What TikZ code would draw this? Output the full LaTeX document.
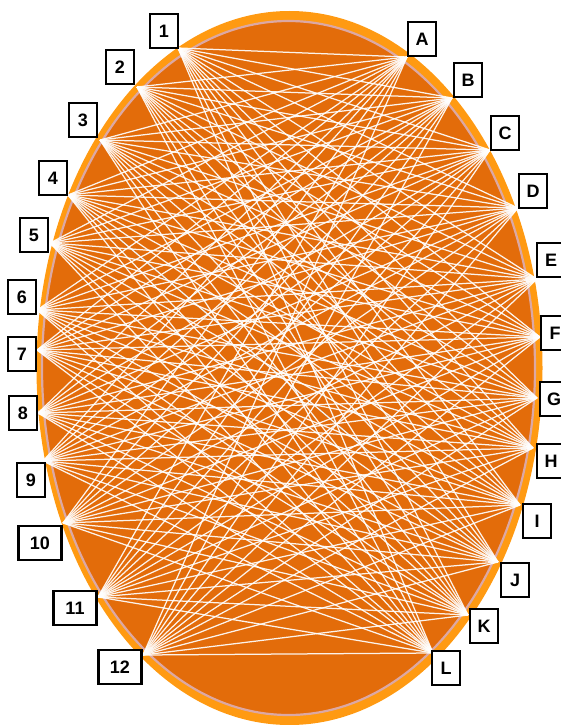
\documentclass[tikz,border=0pt]{standalone}
\usepackage{fontspec}
\setsansfont{Liberation Sans}
\definecolor{Rim}{HTML}{FF9A12}
\definecolor{Body}{HTML}{E36C0A}
\definecolor{Seam}{HTML}{DCA8A4}
\tikzset{
  lbl/.style={draw,line width=2.6pt,fill=white,minimum width=28pt,minimum height=34pt,
    inner sep=0pt,font=\sffamily\bfseries\fontsize{18}{18}\selectfont},
  lblwide/.style={lbl,minimum width=43pt},
  wire/.style={white,line width=1.25pt,opacity=0.92}
}
\begin{document}
\begin{tikzpicture}[x=1pt,y=-1pt]
    \useasboundingbox (0,0) rectangle (560,725);
    % ellipse body
    \fill[Rim] (289.5,368) ellipse [x radius=253pt,y radius=357pt];
    \fill[Body,draw=Seam,line width=2.2pt] (288.5,368) ellipse [x radius=246.5pt,y radius=347pt];
    % points on the rim
    \foreach \n/\x/\y in {1/178/48,2/137/87,3/100/140,4/68/195,5/50/243,6/37/310,
        7/37/350,8/38/413,9/43/461,10/63/523,11/98/597,12/143/655}
      \coordinate (v\n) at (\x,\y);
    \foreach \n/\x/\y in {A/407/57,B/452/98,C/490/150,D/518/208,E/537/279,F/540/337,
        G/537/398,H/533/448,I/520/505,J/498/562,K/468/615,L/433/653}
      \coordinate (v\n) at (\x,\y);
    \draw[gray,opacity=0.55,line width=1.3pt] (v4) -- (vJ);
    % every left point to every right point
    \foreach \i in {1,...,12}
      \foreach \j in {A,B,C,D,E,F,G,H,I,J,K,L}
        \draw[wire] (v\i) -- (v\j);
    % labels
    \foreach \n/\x/\y in {1/164/31,2/120/67,3/83/120,4/53/178,5/34/235,6/22/297,
        7/22/354,8/23/413,9/31/480}
      \node[lbl] (l\n) at (\x,\y) {\n};
    \foreach \n/\x/\y in {10/40/543,11/75/608,12/120/667}
      \node[lblwide] (l\n) at (\x,\y) {\n};
    \foreach \n/\x/\y in {A/422/39,B/468/80,C/505/133,D/533/191,E/551/260,F/555/333,
        G/554/399,H/551/461,I/537/521,J/515/580,K/484/626,L/446/668}
      \node[lbl] (l\n) at (\x,\y) {\n};
  \end{tikzpicture}
\end{document}
